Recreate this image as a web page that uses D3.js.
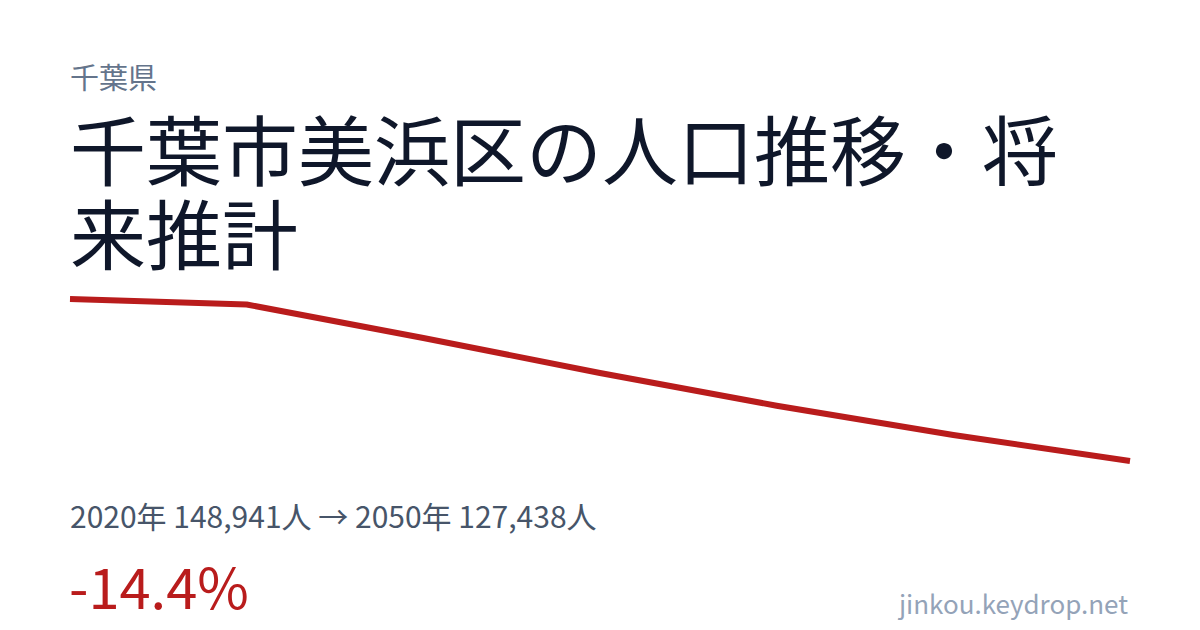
<!DOCTYPE html>
<html>
<head>
<meta charset="utf-8">
<script src="https://cdn.jsdelivr.net/npm/d3@7"></script>
<style>
  html, body { margin: 0; padding: 0; background: #ffffff; }
  svg { display: block; font-family: "Noto Sans CJK JP", "Noto Sans", sans-serif; }
</style>
</head>
<body>
<svg id="chart" width="1200" height="630"></svg>
<script>
// Population (2020 actual, then projections every 5 years)
const years = [2020, 2025, 2030, 2035, 2040, 2045, 2050];
const population = [148941, 148211, 143765, 139119, 134779, 130890, 127438];

const prefecture = "千葉県";
const titleLines = ["千葉市美浜区の人口推移・将", "来推計"];
const siteName = "jinkou.keydrop.net";

const W = 1200, H = 630;
const svg = d3.select("#chart");

svg.append("rect").attr("width", W).attr("height", H).attr("fill", "#ffffff");

// Header
svg.append("text")
  .attr("x", 70).attr("y", 89)
  .attr("fill", "#64748b")
  .style("font-size", "29px")
  .text(prefecture);

svg.append("g").selectAll("text")
  .data(titleLines)
  .join("text")
  .attr("x", 70)
  .attr("y", (d, i) => 180 + i * 84)
  .attr("fill", "#0f172a")
  .style("font-size", "76px")
  .text(d => d);

// Line
const x = d3.scaleLinear()
  .domain(d3.extent(years))
  .range([70, 1130]);

const y = d3.scaleLinear()
  .domain(d3.extent(population))
  .range([461, 299]);

const line = d3.line()
  .x((d, i) => x(years[i]))
  .y(d => y(d));

svg.append("path")
  .datum(population)
  .attr("d", line)
  .attr("fill", "none")
  .attr("stroke", "#b91c1c")
  .attr("stroke-width", 6)
  .attr("stroke-linejoin", "round");

// Summary
const first = population[0], last = population[population.length - 1];
const fmt = d3.format(",");
const change = (last - first) / first * 100;

svg.append("text")
  .attr("x", 70).attr("y", 528)
  .attr("fill", "#475569")
  .style("font-size", "30px")
  .text(`${years[0]}年 ${fmt(first)}人 → ${years[years.length - 1]}年 ${fmt(last)}人`);

svg.append("text")
  .attr("x", 69).attr("y", 609)
  .attr("fill", "#b91c1c")
  .style("font-size", "56px")
  .text(`${change >= 0 ? "+" : ""}${change.toFixed(1)}%`);

svg.append("text")
  .attr("x", 1128).attr("y", 614)
  .attr("text-anchor", "end")
  .attr("fill", "#94a3b8")
  .style("font-size", "26px")
  .text(siteName);
</script>
</body>
</html>
